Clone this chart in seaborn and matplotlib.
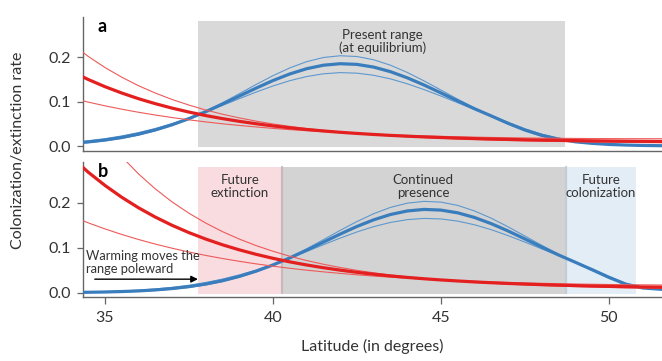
import matplotlib
matplotlib.use("Agg")
import matplotlib.pyplot as plt
from matplotlib.patches import Rectangle
import seaborn as sns

# ---------------- data ----------------
lat = [34.0, 34.5, 35.0, 35.5, 36.0, 36.5, 37.0, 37.5, 38.0, 38.5, 39.0, 39.5,
       40.0, 40.5, 41.0, 41.5, 42.0, 42.5, 43.0, 43.5, 44.0, 44.5, 45.0, 45.5,
       46.0, 46.5, 47.0, 47.5, 48.0, 48.5, 49.0, 49.5, 50.0, 50.5, 51.0, 51.5, 52.0]

# Panel a: present range (at equilibrium)
a_blue_mid = [0.0061, 0.0092, 0.0134, 0.0192, 0.0267, 0.0362, 0.0478, 0.0615, 0.0771, 0.0943, 0.1122, 0.1301,
              0.1471, 0.1619, 0.1737, 0.1816, 0.185, 0.1835, 0.1774, 0.1671, 0.1533, 0.1371, 0.1194, 0.1014,
              0.0838, 0.0676, 0.051, 0.036, 0.024, 0.0155, 0.0095, 0.006, 0.0036, 0.0022, 0.0013, 0.0008, 0.0005]
a_blue_hi = [0.0049, 0.0076, 0.0116, 0.0171, 0.0245, 0.0342, 0.0463, 0.061, 0.0781, 0.0972, 0.1176, 0.1383,
             0.158, 0.1755, 0.1895, 0.1989, 0.2029, 0.2012, 0.1939, 0.1816, 0.1654, 0.1463, 0.1259, 0.1053,
             0.0855, 0.0676, 0.050, 0.0343, 0.0224, 0.0141, 0.0085, 0.0053, 0.0031, 0.0019, 0.0011, 0.0007, 0.0004]
a_blue_lo = [0.0083, 0.0118, 0.0165, 0.0226, 0.0302, 0.0394, 0.0503, 0.0628, 0.0766, 0.0913, 0.1064, 0.1212,
             0.1349, 0.1468, 0.1561, 0.1623, 0.165, 0.1638, 0.159, 0.1509, 0.1399, 0.1268, 0.1124, 0.0973,
             0.0824, 0.0682, 0.0532, 0.0389, 0.0268, 0.0177, 0.0111, 0.0071, 0.0043, 0.0027, 0.0016, 0.001, 0.0006]
a_red_mid = [0.168, 0.1497, 0.1335, 0.1192, 0.1064, 0.0952, 0.0852, 0.0764, 0.0685, 0.0616, 0.0555, 0.0501,
             0.0452, 0.041, 0.0372, 0.0339, 0.0309, 0.0283, 0.026, 0.0239, 0.0221, 0.0205, 0.0191, 0.0178,
             0.0167, 0.0157, 0.0148, 0.014, 0.0133, 0.0127, 0.0122, 0.0117, 0.0113, 0.0109, 0.0106, 0.0103, 0.010]
a_red_hi = [0.2307, 0.2017, 0.1766, 0.1548, 0.1356, 0.1191, 0.1046, 0.0921, 0.081, 0.0715, 0.0632, 0.056,
            0.0496, 0.0442, 0.0393, 0.0352, 0.0315, 0.0283, 0.0255, 0.023, 0.0209, 0.019, 0.0174, 0.0159,
            0.0147, 0.0135, 0.0125, 0.0116, 0.0108, 0.0102, 0.0096, 0.009, 0.0085, 0.0081, 0.0077, 0.0074, 0.007]
a_red_lo = [0.108, 0.0988, 0.0904, 0.0828, 0.0759, 0.0697, 0.064, 0.0589, 0.0542, 0.05, 0.0463, 0.0429,
            0.0397, 0.0369, 0.0344, 0.0322, 0.0301, 0.0283, 0.0267, 0.0252, 0.0239, 0.0227, 0.0218, 0.0208,
            0.02, 0.0193, 0.0187, 0.0182, 0.0177, 0.0174, 0.0171, 0.0168, 0.0167, 0.0165, 0.0165, 0.0164, 0.0164]

# Panel b: after warming
b_blue_mid = [0.0005, 0.0009, 0.0015, 0.0025, 0.0039, 0.0061, 0.0092, 0.0134, 0.0192, 0.0267, 0.0362, 0.0478,
              0.0615, 0.0771, 0.0943, 0.1122, 0.1301, 0.1471, 0.1619, 0.1737, 0.1816, 0.185, 0.1835, 0.1774,
              0.1671, 0.1533, 0.1371, 0.1194, 0.1014, 0.0838, 0.0676, 0.051, 0.034, 0.019, 0.0105, 0.0078, 0.0055]
b_blue_hi = [0.0003, 0.0006, 0.0011, 0.0018, 0.003, 0.0049, 0.0076, 0.0116, 0.0171, 0.0245, 0.0342, 0.0463,
             0.061, 0.0781, 0.0972, 0.1176, 0.1383, 0.158, 0.1755, 0.1895, 0.1989, 0.2029, 0.2012, 0.1939,
             0.1816, 0.1654, 0.1463, 0.1259, 0.1053, 0.0855, 0.0676, 0.050, 0.0325, 0.0178, 0.0097, 0.0071, 0.005]
b_blue_lo = [0.001, 0.0016, 0.0025, 0.0038, 0.0056, 0.0083, 0.0118, 0.0165, 0.0226, 0.0302, 0.0394, 0.0503,
             0.0628, 0.0766, 0.0913, 0.1064, 0.1212, 0.1349, 0.1468, 0.1561, 0.1623, 0.165, 0.1638, 0.159,
             0.1509, 0.1399, 0.1268, 0.1124, 0.0973, 0.0824, 0.0682, 0.0532, 0.0365, 0.0208, 0.0116, 0.0086, 0.0061]
b_red_mid = [0.302, 0.268, 0.2385, 0.2121, 0.1887, 0.168, 0.1497, 0.1335, 0.1192, 0.1064, 0.0952, 0.0852,
             0.0764, 0.0685, 0.0616, 0.0555, 0.0501, 0.0452, 0.041, 0.0372, 0.0339, 0.0309, 0.0283, 0.026,
             0.0239, 0.0221, 0.0205, 0.0191, 0.0178, 0.0167, 0.0157, 0.0148, 0.014, 0.0133, 0.0127, 0.0122, 0.0117]
b_red_hi = [0.455, 0.3965, 0.3463, 0.3023, 0.264, 0.2307, 0.2017, 0.1766, 0.1548, 0.1356, 0.1191, 0.1046,
            0.0921, 0.081, 0.0715, 0.0632, 0.056, 0.0496, 0.0442, 0.0393, 0.0352, 0.0315, 0.0283, 0.0255,
            0.023, 0.0209, 0.019, 0.0174, 0.0159, 0.0147, 0.0135, 0.0125, 0.0116, 0.0108, 0.0102, 0.0096, 0.009]
b_red_lo = [0.1705, 0.1553, 0.1418, 0.1294, 0.1182, 0.108, 0.0988, 0.0904, 0.0828, 0.0759, 0.0697, 0.064,
            0.0589, 0.0542, 0.05, 0.0463, 0.0429, 0.0397, 0.0369, 0.0344, 0.0322, 0.0301, 0.0283, 0.0267,
            0.0252, 0.0239, 0.0227, 0.0218, 0.0208, 0.02, 0.0193, 0.0187, 0.0182, 0.0177, 0.0174, 0.0171, 0.0168]

# range boundaries (latitude)
present_range = [37.77, 48.70]
future_extinction = [37.77, 40.27]
continued_presence = [40.27, 48.73]
future_colonization = [48.73, 50.80]

x_ticks = [35, 40, 45, 50]
y_ticks = [0.0, 0.1, 0.2]
y_ticklabels = ["0.0", "0.1", "0.2"]

# ---------------- style ----------------
sns.set_style("white")
plt.rcParams["font.family"] = ["Lato", "DejaVu Sans"]

RED = "#e3201f"
RED_THIN = "#ee5a5a"
BLUE = "#3a7dbd"
BLUE_THIN = "#5d98cf"
SPINE = "#666666"
TXT = "#333333"

fig = plt.figure(figsize=(6.62, 3.61), dpi=100)
ax_a = fig.add_axes([0.1254, 0.5817, 0.8746, 0.3712])
ax_b = fig.add_axes([0.1254, 0.1773, 0.8746, 0.3740])


def draw_curves(ax, bm, bh, bl, rm, rh, rl):
    for vals in (bh, bl):
        sns.lineplot(x=lat, y=vals, ax=ax, color=BLUE_THIN, lw=0.8, zorder=3)
    sns.lineplot(x=lat, y=bm, ax=ax, color=BLUE, lw=2.3, zorder=4)
    for vals in (rh, rl):
        sns.lineplot(x=lat, y=vals, ax=ax, color=RED_THIN, lw=0.8, zorder=5)
    sns.lineplot(x=lat, y=rm, ax=ax, color=RED, lw=2.3, zorder=6)


def add_box(ax, span, color, top=0.28, bottom=-0.002, edge=None):
    ax.add_patch(Rectangle((span[0], bottom), span[1] - span[0], top - bottom,
                           facecolor=color, edgecolor="none", zorder=1))
    if edge is not None:
        ax.axvline(span[0], ymin=0.03, ymax=0.965, color=edge, lw=1.6, zorder=1.5)


# panel a
add_box(ax_a, present_range, "#d9d9d9")
draw_curves(ax_a, a_blue_mid, a_blue_hi, a_blue_lo, a_red_mid, a_red_hi, a_red_lo)
ax_a.text(43.25, 0.264, "Present range\n(at equilibrium)", ha="center", va="top",
          fontsize=9.5, color=TXT, linespacing=1.1, zorder=7)

# panel b
add_box(ax_b, future_extinction, "#f9dcdf")
add_box(ax_b, continued_presence, "#d3d3d3", edge="#c9b9bc")
add_box(ax_b, future_colonization, "#e3edf6", edge="#c4ccd4")
draw_curves(ax_b, b_blue_mid, b_blue_hi, b_blue_lo, b_red_mid, b_red_hi, b_red_lo)
ax_b.text(39.02, 0.264, "Future\nextinction", ha="center", va="top",
          fontsize=9.5, color=TXT, linespacing=1.1, zorder=7)
ax_b.text(44.47, 0.264, "Continued\npresence", ha="center", va="top",
          fontsize=9.5, color=TXT, linespacing=1.1, zorder=7)
ax_b.text(49.77, 0.264, "Future\ncolonization", ha="center", va="top",
          fontsize=9.5, color=TXT, linespacing=1.1, zorder=7)
ax_b.text(34.43, 0.094, "Warming moves the\nrange poleward", ha="left", va="top",
          fontsize=9.3, color=TXT, linespacing=1.05, zorder=7)
ax_b.annotate("", xy=(37.77, 0.030), xytext=(34.7, 0.030),
              arrowprops=dict(arrowstyle="-|>", color="black", lw=1.0,
                              mutation_scale=10, shrinkA=0, shrinkB=0), zorder=8)

# axes formatting
for ax, ylim, lab in ((ax_a, (-0.0112, 0.29), "a"), (ax_b, (-0.0096, 0.2904), "b")):
    ax.set_xlim(34.35, 51.58)
    ax.set_ylim(*ylim)
    ax.set_yticks(y_ticks)
    ax.set_yticklabels(y_ticklabels)
    ax.set_xticks(x_ticks)
    ax.set_xlabel("")
    ax.set_ylabel("")
    sns.despine(ax=ax, top=True, right=True)
    for s in ("left", "bottom"):
        ax.spines[s].set_color(SPINE)
        ax.spines[s].set_linewidth(1.0)
    ax.tick_params(axis="y", left=True, length=4.5, width=0.9, color=SPINE,
                   labelsize=11.5, labelcolor=TXT, pad=4)
    ax.text(0.025, 0.995, lab, transform=ax.transAxes, ha="left", va="top",
            fontsize=13, fontweight="bold", color="black", zorder=9)
    ax.set_facecolor("white")

ax_a.tick_params(axis="x", bottom=False, labelbottom=False)
ax_b.tick_params(axis="x", bottom=True, length=5, width=0.9, color=SPINE,
                 labelsize=11.5, labelcolor=TXT, pad=5)
ax_b.set_xlabel("Latitude (in degrees)", fontsize=11.5, color=TXT, labelpad=10)

fig.text(0.027, 0.584, "Colonization/extinction rate", rotation=90,
         ha="center", va="center", fontsize=11.5, color=TXT)

fig.savefig("out.png", dpi=100)
